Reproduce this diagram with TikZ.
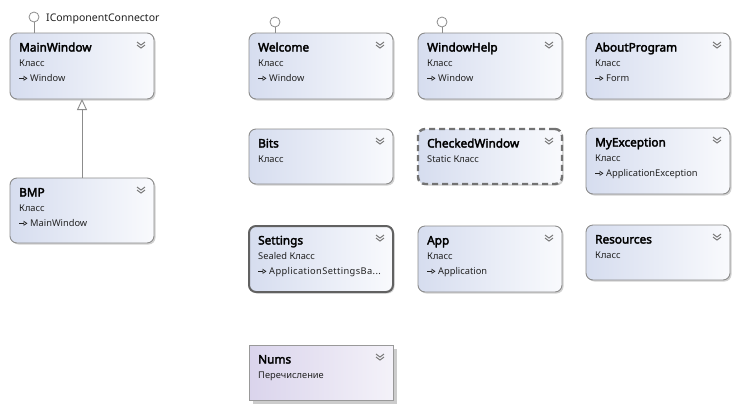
\documentclass[tikz,border=0pt]{standalone}
\usepackage{fontspec}
\setmainfont{Noto Sans}
\newfontfamily\ttlfont{Noto Sans}[FakeBold=2.8]
\usetikzlibrary{shadows,calc,arrows.meta}
\definecolor{bord}{HTML}{8C8C8C}
\definecolor{gl}{HTML}{D6DDEF}
\definecolor{gr}{HTML}{F9FAFD}
\definecolor{nl}{HTML}{DAD4EC}
\definecolor{nr}{HTML}{F4F2F9}
\definecolor{chevc}{HTML}{7A7A7A}
\definecolor{txt}{HTML}{222222}
\tikzset{
 clsfill/.style={draw=bord, line width=0.9pt, minimum width=144pt, inner sep=0pt, outer sep=0pt, anchor=north west},
 cls/.style={clsfill, rounded corners=7pt, left color=gl, right color=gr, drop shadow={shadow xshift=1.5pt, shadow yshift=-1.5pt, fill=black, opacity=0.18}},
 enm/.style={clsfill, left color=nl, right color=nr, draw=black!40, drop shadow={shadow xshift=4pt, shadow yshift=-4pt, fill=black, opacity=0.2}},
 sealed/.style={draw=black!62, line width=2pt},
 static/.style={draw=black!55, line width=2.4pt, dash pattern=on 6pt off 4pt},
 ttl/.style={anchor=base west, inner sep=0pt, font=\ttlfont\fontsize{11.8}{13}\selectfont},
 subt/.style={anchor=base west, inner sep=0pt, font=\fontsize{9.3}{11}\selectfont, text=txt},
 lbl/.style={anchor=base west, inner sep=0pt, font=\fontsize{10.5}{12}\selectfont, text=txt},
 chev/.style={draw=chevc, line width=1pt},
 inharr/.style={draw=txt, line width=0.7pt, -{Triangle[open,length=4pt,width=5pt]}},
 lolly/.style={circle, draw=bord, fill=white, line width=0.8pt, minimum size=10pt, inner sep=0pt},
 lollyline/.style={draw=bord, line width=0.9pt},
 gen/.style={draw=bord, line width=0.9pt, -{Triangle[open,length=11pt,width=10pt]}},
}
\newcommand\clsbox[6]{%
 \node[#5, minimum height=#4pt] (#1) at (#2,#3) {};
 \node[ttl] (#1-t) at ($(#1.north west)+(9,18.5)$) {#6};
 \draw[chev] ($(#1.north east)+(-17,9)$) -- ++(4,3) -- ++(4,-3)
             ($(#1.north east)+(-17,12)$) -- ++(4,3) -- ++(4,-3);
}
\newcommand\clssub[2]{\node[subt] (#1-s) at ($(#1.north west)+(9,33)$) {#2};}
\newcommand\clsbase[2]{%
 \draw[inharr] ($(#1.north west)+(9,45.3)$) -- ++(8.5,0);
 \node[subt] (#1-b) at ($(#1.north west)+(20,48.5)$) {#2};}
\begin{document}
\begin{tikzpicture}[x=1pt,y=-1pt]
\useasboundingbox[fill=white] (0,0) rectangle (739,408);
% row 1
\clsbox{mw}{10}{33}{66}{cls}{MainWindow}
\clssub{mw}{Класс}
\clsbase{mw}{Window}
\clsbox{bmp}{10}{178}{65}{cls}{BMP}
\clssub{bmp}{Класс}
\clsbase{bmp}{MainWindow}
\clsbox{wel}{249}{33}{66}{cls}{Welcome}
\clssub{wel}{Класс}
\clsbase{wel}{Window}
\clsbox{help}{418}{33}{66}{cls}{WindowHelp}
\clssub{help}{Класс}
\clsbase{help}{Window}
\clsbox{about}{586}{33}{66}{cls}{AboutProgram}
\clssub{about}{Класс}
\clsbase{about}{Form}
% row 2
\clsbox{bits}{249}{129}{55}{cls}{Bits}
\clssub{bits}{Класс}
\clsbox{chk}{418}{129}{55}{cls,static}{CheckedWindow}
\clssub{chk}{Static Класс}
\clsbox{myex}{586}{128}{66}{cls}{MyException}
\clssub{myex}{Класс}
\clsbase{myex}{ApplicationException}
% row 3
\clsbox{set}{249}{226}{66}{cls,sealed}{Settings}
\clssub{set}{Sealed Класс}
\clsbase{set}{\addfontfeature{LetterSpace=4}ApplicationSettingsBa...}
\clsbox{app}{418}{226}{66}{cls}{App}
\clssub{app}{Класс}
\clsbase{app}{Application}
\clsbox{res}{586}{225}{55}{cls}{Resources}
\clssub{res}{Класс}
% row 4
\clsbox{nums}{249}{345}{55}{enm}{Nums}
\clssub{nums}{Перечисление}
% generalization
\draw[gen] (bmp.north) -- (mw.south);
% lollipops
\node[lolly] (ic1) at (34,17) {};
\draw[lollyline] (ic1.south) -- (ic1.south |- mw.north);
\node[lbl] (ic1-l) at (46,21.5) {IComponentConnector};
\node[lolly] (ic2) at (275,22) {};
\draw[lollyline] (ic2.south) -- (ic2.south |- wel.north);
\node[lolly] (ic3) at (442,22) {};
\draw[lollyline] (ic3.south) -- (ic3.south |- help.north);
\end{tikzpicture}
\end{document}
